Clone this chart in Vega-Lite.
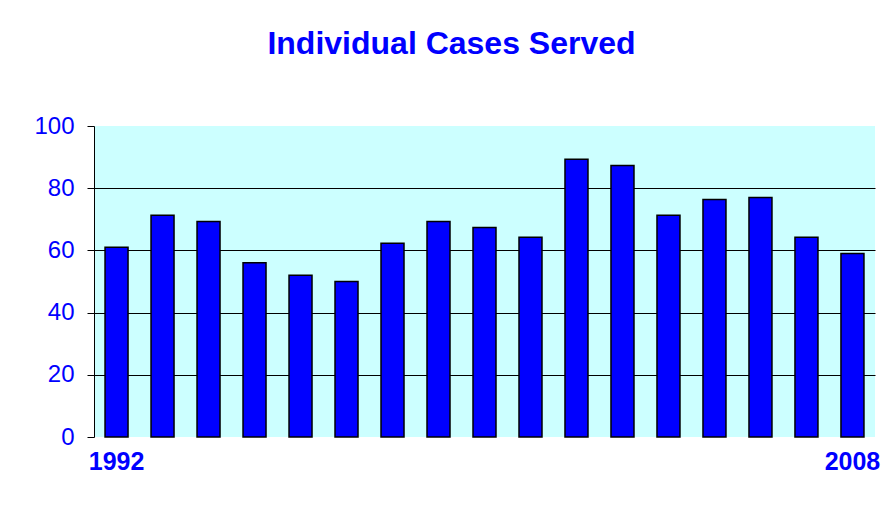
{
  "$schema": "https://vega.github.io/schema/vega-lite/v6.json",
  "width": 781,
  "height": 311,
  "autosize": {"type": "none"},
  "padding": {"left": 94, "top": 126, "right": 8, "bottom": 88},
  "background": "white",
  "title": {
    "text": "Individual Cases Served",
    "font": "Liberation Sans",
    "fontSize": 32,
    "fontWeight": "bold",
    "color": "#0000FF",
    "anchor": "middle",
    "dx": -33,
    "baseline": "alphabetic",
    "offset": 28
  },
  "config": {
    "view": {"fill": "#CCFFFF", "stroke": null},
    "font": "Liberation Sans"
  },
  "data": {
    "values": [
      {"year": "1992", "cases": 61},
      {"year": "1993", "cases": 71.3},
      {"year": "1994", "cases": 69.3},
      {"year": "1995", "cases": 56},
      {"year": "1996", "cases": 52},
      {"year": "1997", "cases": 50},
      {"year": "1998", "cases": 62.3},
      {"year": "1999", "cases": 69.3},
      {"year": "2000", "cases": 67.4},
      {"year": "2001", "cases": 64.2},
      {"year": "2002", "cases": 89.3},
      {"year": "2003", "cases": 87.3},
      {"year": "2004", "cases": 71.3},
      {"year": "2005", "cases": 76.4},
      {"year": "2006", "cases": 77},
      {"year": "2007", "cases": 64.2},
      {"year": "2008", "cases": 59}
    ]
  },
  "mark": {"type": "bar", "color": "#0000FF", "stroke": "#000000", "strokeWidth": 1.5},
  "encoding": {
    "x": {
      "field": "year",
      "type": "ordinal",
      "sort": null,
      "scale": {"paddingInner": 0.5, "paddingOuter": 0.24},
      "axis": {
        "title": null,
        "labelAngle": 0,
        "labelExpr": "datum.value == '1992' || datum.value == '2008' ? datum.value : ''",
        "labelFont": "Liberation Sans",
        "labelFontSize": 25,
        "labelFontWeight": "bold",
        "labelColor": "#0000FF",
        "labelPadding": 12,
        "labelOverlap": false,
        "ticks": false,
        "domain": false,
        "grid": false
      }
    },
    "y": {
      "field": "cases",
      "type": "quantitative",
      "scale": {"domain": [0, 100]},
      "axis": {
        "title": null,
        "values": [0, 20, 40, 60, 80, 100],
        "labelFont": "Liberation Sans",
        "labelFontSize": 24,
        "labelColor": "#0000FF",
        "labelPadding": 13,
        "tickSize": 7,
        "tickColor": "#000000",
        "domainColor": "#000000",
        "grid": true,
        "gridColor": "#000000",
        "gridOpacity": {"condition": {"test": "datum.value == 0 || datum.value == 100", "value": 0}, "value": 1},
        "gridWidth": 1
      }
    }
  }
}
